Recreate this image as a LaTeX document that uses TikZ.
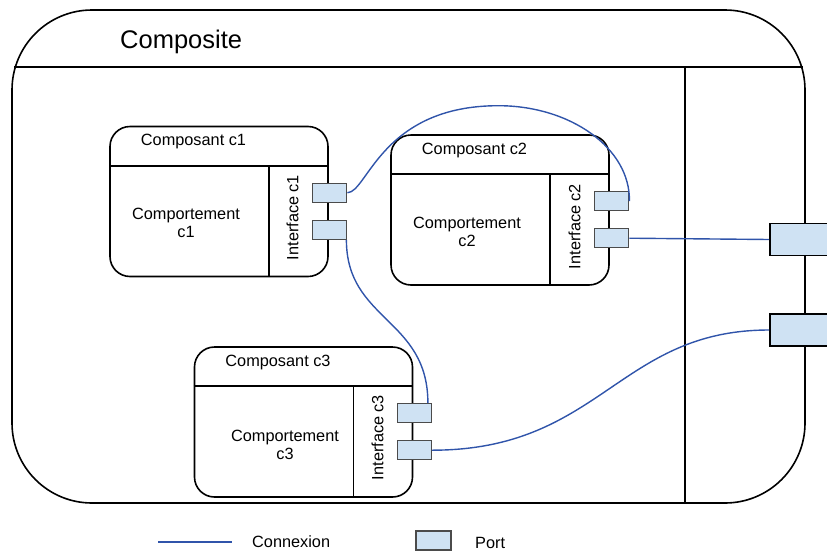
\documentclass[tikz,border=0pt]{standalone}
\usepackage{fontspec}
\setmainfont{Liberation Sans}
\usetikzlibrary{calc}
\definecolor{portfill}{RGB}{207,226,243}
\definecolor{portdraw}{RGB}{75,75,75}
\definecolor{wireblue}{RGB}{48,84,170}
\tikzset{
  frame/.style={draw=black, line width=1.6pt},
  comp/.style={draw=black, line width=1.6pt, rounded corners=20pt, minimum width=218pt, minimum height=150pt, inner sep=0pt},
  port/.style={draw=portdraw, fill=portfill, line width=1.2pt, minimum width=34pt, minimum height=19pt, inner sep=0pt},
  bigport/.style={draw=black, fill=portfill, line width=1.6pt, minimum width=70pt, minimum height=32pt, inner sep=0pt},
  wire/.style={draw=wireblue, line width=1.4pt},
  lbl/.style={font=\fontsize{16.3}{18}\selectfont, align=center, inner sep=0pt},
  bigtitle/.style={font=\fontsize{25.5}{30}\selectfont, inner sep=0pt},
}
\begin{document}
\begin{tikzpicture}[x=1pt,y=-1pt]
\clip (0,0) rectangle (827,552);
% composite frame
\node[frame, rounded corners=80pt, minimum width=793pt, minimum height=493pt, inner sep=0pt] (composite) at (408.5,256.5) {};
\draw[frame] ($(composite.north west)+(3.1,58)$) -- ($(composite.north east)+(-3.1,58)$);
\draw[frame] ($(composite.south east)+(-121,0)$) -- ($(composite.north east)+(-121,58)$);
\node[bigtitle, anchor=base west] (comptitle) at (120,48) {Composite};
% components
\node[comp] (c1) at (219,201.5) {};
\node[comp] (c2) at (500,210) {};
\node[comp] (c3) at (303.5,422) {};
\foreach \c in {c1,c2,c3}{
  \draw[frame] ($(\c.north west)+(0,40)$) -- ($(\c.north east)+(0,40)$);
  \draw[frame] ($(\c.north east)+(-60,40)$) -- ($(\c.south east)+(-60,0)$);
}
\node[lbl, anchor=base] (c1t) at ($(c1.north)+(-25.5,20)$) {Composant c1};
\node[lbl, anchor=base] (c2t) at ($(c2.north)+(-25.5,20)$) {Composant c2};
\node[lbl, anchor=base] (c3t) at ($(c3.north)+(-25.5,20)$) {Composant c3};
\node[lbl] (c1beh) at ($(c1)+(-33,21.5)$) {Comportement\\c1};
\node[lbl] (c2beh) at ($(c2)+(-33,21.5)$) {Comportement\\c2};
\node[lbl] (c3beh) at ($(c3)+(-18.5,22.5)$) {Comportement\\c3};
\node[lbl, rotate=90] (c1int) at ($(c1)+(73.5,16)$) {Interface c1};
\node[lbl, rotate=90] (c2int) at ($(c2)+(74.5,16.5)$) {Interface c2};
\node[lbl, rotate=90] (c3int) at ($(c3)+(74,15.5)$) {Interface c3};
% ports
\node[port] (c1pa) at ($(c1.north east)+(1,67)$) {};
\node[port] (c1pb) at ($(c1.north east)+(1,104)$) {};
\node[port] (c2pa) at ($(c2.north east)+(2,67)$) {};
\node[port] (c2pb) at ($(c2.north east)+(2,104)$) {};
\node[port] (c3pa) at ($(c3.north east)+(1,67)$) {};
\node[port] (c3pb) at ($(c3.north east)+(1,104)$) {};
\node[bigport] (P1) at (805,239.5) {};
\node[bigport] (P2) at (805,330) {};
% wires
\draw[wire] (c1pa.east)
  .. controls +(20,0) and +(-117,0) .. ++(151,-87) coordinate (arcTop)
  .. controls +(72,0) and +(1,-53) .. (c2pa.east);
\draw[wire] ($(c1pb.south east)+(-1,0)$) .. controls +(0,81) and +(0,-85) .. ($(c3pa.north east)+(-4,0)$);
\draw[wire] (c3pb.east) .. controls +(169,0) and +(-151,0) .. (P2.west);
\draw[wire] (c2pb.east) -- (P1.west);
% legend
\coordinate (lgA) at (158,542);
\coordinate (lgB) at (232,542);
\draw[wire] (lgA) -- (lgB);
\node[lbl, anchor=base west] (lgcon) at (252,547.5) {Connexion};
\node[port, minimum width=35pt] (lgport) at (433.5,540.5) {};
\node[lbl, anchor=base west] (lgporttxt) at (475,548.5) {Port};
\end{tikzpicture}
\end{document}
